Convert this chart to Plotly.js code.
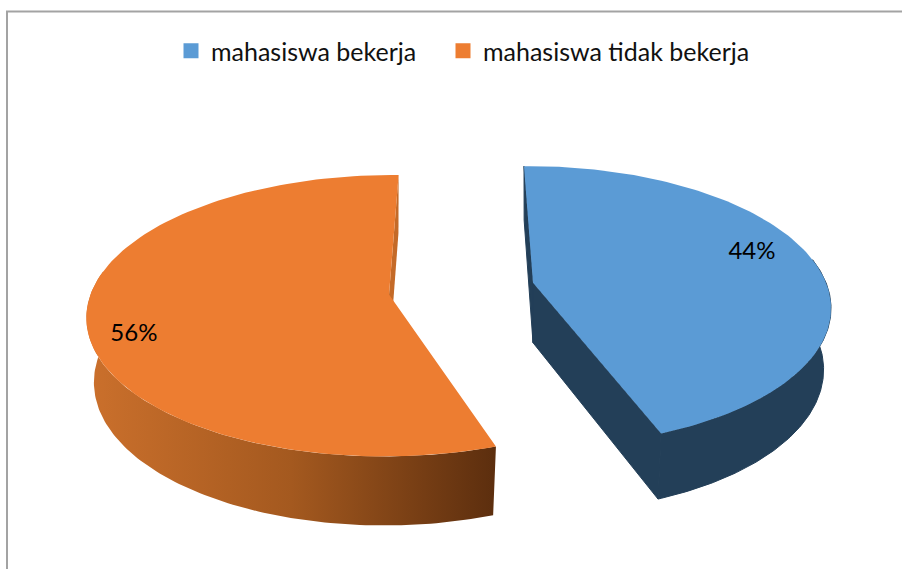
<!DOCTYPE html>
<html><head><meta charset="utf-8">
<script src="https://cdn.plot.ly/plotly-3.0.1.min.js"></script>
<style>html,body{margin:0;padding:0;background:#fff}#c{width:902px;height:569px}</style>
</head><body><div id="c"></div>
<script>
// Data
const categories = ['mahasiswa bekerja', 'mahasiswa tidak bekerja'];
const shares = [44, 56];
const labels = ['44%', '56%'];

// Styles
const topColors = ['#5B9BD5', '#ED7D31'];
const FONT = 'Lato, "Noto Sans", sans-serif';

// Perspective view of each exploded slice, in axis units
const view = [
  {x: 533, y: 282.7, Rx: 293, Ry: 136, p: 0.1667, depth: 60, depthVar: 6, startOff: -1.1, endOff: 0.9},
  {x: 389, y: 294.5, Rx: 298.5, Ry: 137.5, p: 0.151, depth: 63.5, depthVar: 5.5, startOff: 2.9, endOff: 1.3}
];
const vanishX = 460, vanishS = 0.4, shrink = 0.975;
const labelPlace = [{r: 0.812, dt: -5.4}, {r: 0.862, dt: -10.5}];
const wallFrom = 80, wallTo = 280;

function project(i, tDeg, r, lower) {
  const t = tDeg * Math.PI / 180, a = view[i];
  const u = r * Math.sin(t), v = r * Math.cos(t), w = 1 + a.p * v;
  return {
    x: a.x + a.Rx * u / w * (lower ? shrink : 1) + vanishS * (a.x - vanishX) * (1 / w - 1),
    y: a.y - a.Ry * v / w + (lower ? a.depth - a.depthVar * v : 0)
  };
}
function arc(i, t0, t1, lower) {
  const pts = [], n = 120;
  for (let k = 0; k <= n; k++) pts.push(project(i, t0 + (t1 - t0) * k / n, 1, lower));
  return pts;
}
function poly(pts, extra) {
  return Object.assign({
    type: 'scatter', mode: 'lines', x: pts.map(p => p.x), y: pts.map(p => p.y),
    fill: 'toself', line: {width: 0}, hoverinfo: 'skip', showlegend: false
  }, extra);
}

const total = shares.reduce((a, b) => a + b, 0);
let cum = 0;
const spans = shares.map((s, i) => {
  const a = cum / total * 360; cum += s;
  return [a + view[i].startOff, cum / total * 360 + view[i].endOff];
});

const traces = [];
const darkBlue = '#233F58';
const sideStyles = [
  {fillcolor: darkBlue, line: {width: 1, color: darkBlue}},
  {fillcolor: '#C86F2B', fillgradient: {type: 'horizontal', colorscale: [[0, '#CB702C'], [0.5, '#A4591F'], [1, '#5C2E0E']]}}
];
const faceStyles = [{fillcolor: darkBlue, line: {width: 1, color: darkBlue}}, {fillcolor: '#C46A28'}];

shares.forEach((_, i) => {
  const [t0, t1] = spans[i];
  const c = {x: view[i].x, y: view[i].y};
  const lc = project(i, 0, 0, true);
  // cut faces that look towards the viewer
  const edge = i === 0 ? [t0, t1] : [t1];
  edge.forEach(t => {
    traces.push(poly([c, project(i, t, 1, false), project(i, t, 1, true), lc, c], faceStyles[i]));
  });
  // outer wall, front part only
  const w0 = Math.max(t0, wallFrom), w1 = Math.min(t1, wallTo);
  const upper = arc(i, w0, w1, false), low = arc(i, w0, w1, true).reverse();
  traces.push(poly(upper.concat(low, [upper[0]]), sideStyles[i]));
  // top surface
  traces.push(poly([c].concat(arc(i, t0, t1, false), [c]), {fillcolor: topColors[i]}));
});

// legend keys, one legend box per entry
categories.forEach((name, i) => traces.push({
  type: 'scatter', mode: 'markers', x: [-500], y: [-500], name,
  legend: i === 0 ? 'legend' : 'legend2',
  marker: {symbol: 'square', size: 15, color: topColors[i]}, hoverinfo: 'skip'
}));

// percentage labels
const lp = labels.map((_, i) => {
  const mid = (spans[i][0] + spans[i][1]) / 2;
  return project(i, mid + labelPlace[i].dt, labelPlace[i].r, false);
});
traces.push({
  type: 'scatter', mode: 'text', x: lp.map(p => p.x), y: lp.map(p => p.y), text: labels,
  textposition: 'middle center', textfont: {family: FONT, size: 24, color: '#000'},
  hoverinfo: 'skip', showlegend: false
});

const legendBase = {
  orientation: 'h', xanchor: 'left', y: 1 - 28 / 569, yanchor: 'top',
  font: {family: FONT, size: 25, color: '#111'}, itemwidth: 30, bgcolor: 'rgba(0,0,0,0)'
};
const layout = {
  width: 902, height: 569, margin: {l: 0, r: 0, t: 0, b: 0},
  paper_bgcolor: '#fff', plot_bgcolor: '#fff', showlegend: true,
  xaxis: {range: [0, 902], visible: false, fixedrange: true},
  yaxis: {range: [569, 0], visible: false, fixedrange: true},
  legend: Object.assign({x: 171 / 902}, legendBase),
  legend2: Object.assign({x: 443 / 902}, legendBase),
  shapes: [{type: 'path', path: 'M 7 569 L 7 11.5 L 902 11.5', line: {color: '#A3A3A3', width: 2}}]
};
Plotly.newPlot('c', traces, layout, {displayModeBar: false, staticPlot: true});
</script></body></html>
